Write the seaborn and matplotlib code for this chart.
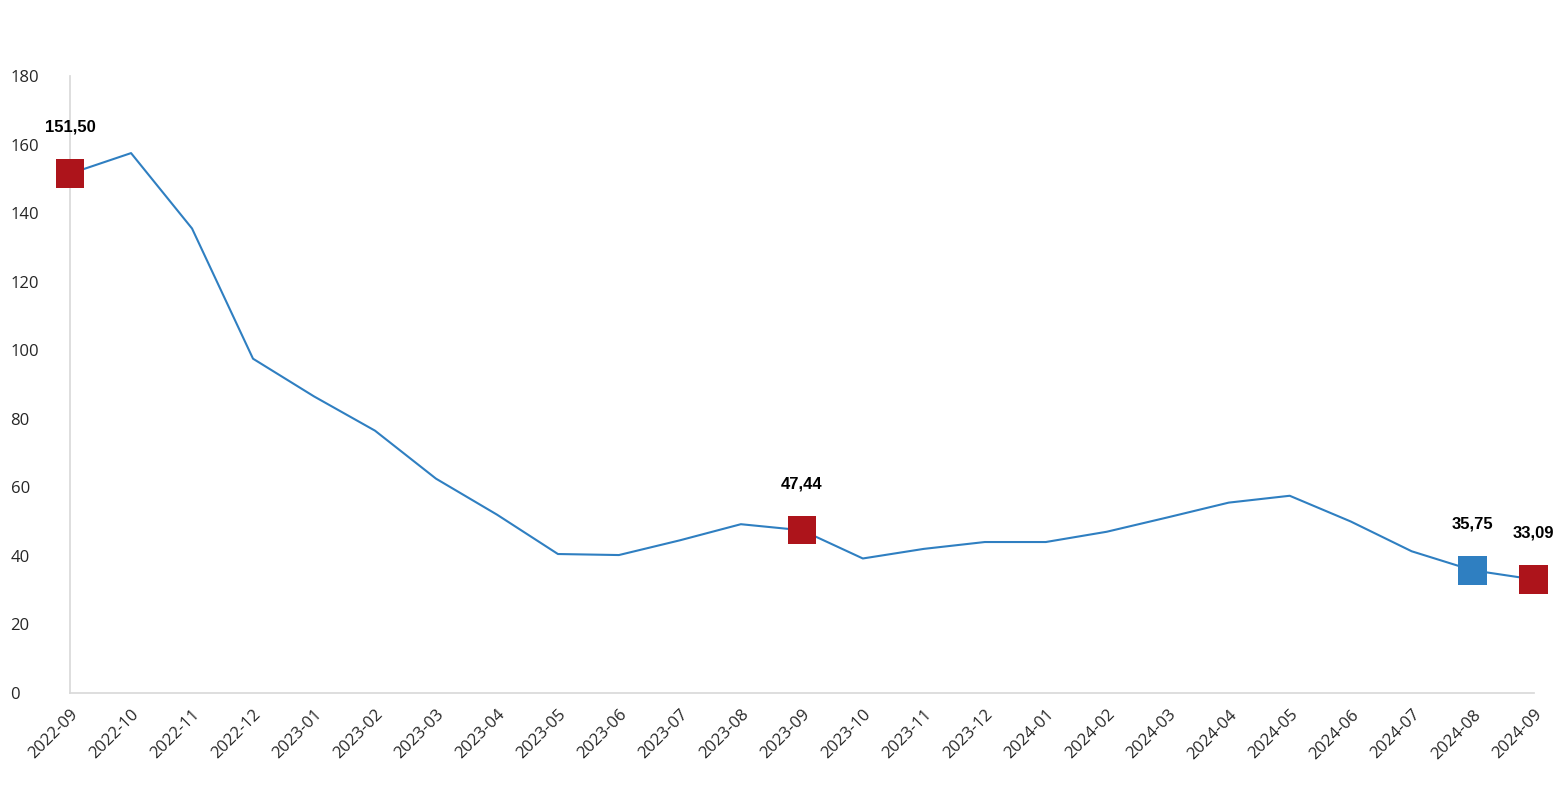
import matplotlib
matplotlib.use("Agg")
import matplotlib.pyplot as plt
import seaborn as sns
import pandas as pd

months = ["2022-09", "2022-10", "2022-11", "2022-12", "2023-01", "2023-02", "2023-03",
          "2023-04", "2023-05", "2023-06", "2023-07", "2023-08", "2023-09", "2023-10",
          "2023-11", "2023-12", "2024-01", "2024-02", "2024-03", "2024-04", "2024-05",
          "2024-06", "2024-07", "2024-08", "2024-09"]
values = [151.50, 157.5, 135.5, 97.5, 86.5, 76.5, 62.5, 52.0, 40.5, 40.2, 44.5, 49.2,
          47.44, 39.2, 42.0, 44.0, 44.0, 47.0, 51.2, 55.5, 57.5, 50.0, 41.3, 35.75, 33.09]
red_marks = ["2022-09", "2023-09", "2024-09"]
blue_marks = ["2024-08"]

sns.set_theme(style="white")
plt.rcParams["font.family"] = ["Open Sans", "DejaVu Sans"]

df = pd.DataFrame({"month": months, "value": values})
df["pos"] = range(len(df))

fig = plt.figure(figsize=(15.57, 8), dpi=100)
ax = fig.add_axes([0.045, 0.134, 0.94, 0.771])
sns.lineplot(data=df, x="pos", y="value", color="#2f7fc1", linewidth=1.5, ax=ax)

for names, col in [(red_marks, "#ad141b"), (blue_marks, "#2f7fc1")]:
    sub = df[df["month"].isin(names)]
    sns.scatterplot(data=sub, x="pos", y="value", marker="s", s=420, color=col,
                    edgecolor="none", ax=ax, zorder=5, clip_on=False)
    for _, r in sub.iterrows():
        ax.annotate(f"{r['value']:.2f}".replace(".", ","), (r["pos"], r["value"]),
                    xytext=(0, 30), textcoords="offset points", ha="center",
                    fontsize=12, fontweight="bold", color="black",
                    family="Liberation Sans")

ax.set_xlim(0, len(months) - 1)
ax.set_ylim(0, 180)
ax.set_yticks(range(0, 181, 20))
ax.set_xticks(df["pos"])
ax.set_xticklabels(months, rotation=45, ha="right", rotation_mode="anchor", fontsize=12)
ax.tick_params(axis="y", labelsize=12, pad=0)
ax.tick_params(axis="x", pad=4)
ax.set_xlabel("")
ax.set_ylabel("")
for s in ["top", "right"]:
    ax.spines[s].set_visible(False)
for s in ["left", "bottom"]:
    ax.spines[s].set_color("#d9d9d9")
for t in ax.get_yticklabels():
    t.set_horizontalalignment("left")
    t.set_x(-0.035)

fig.savefig("out.png", dpi=100)
